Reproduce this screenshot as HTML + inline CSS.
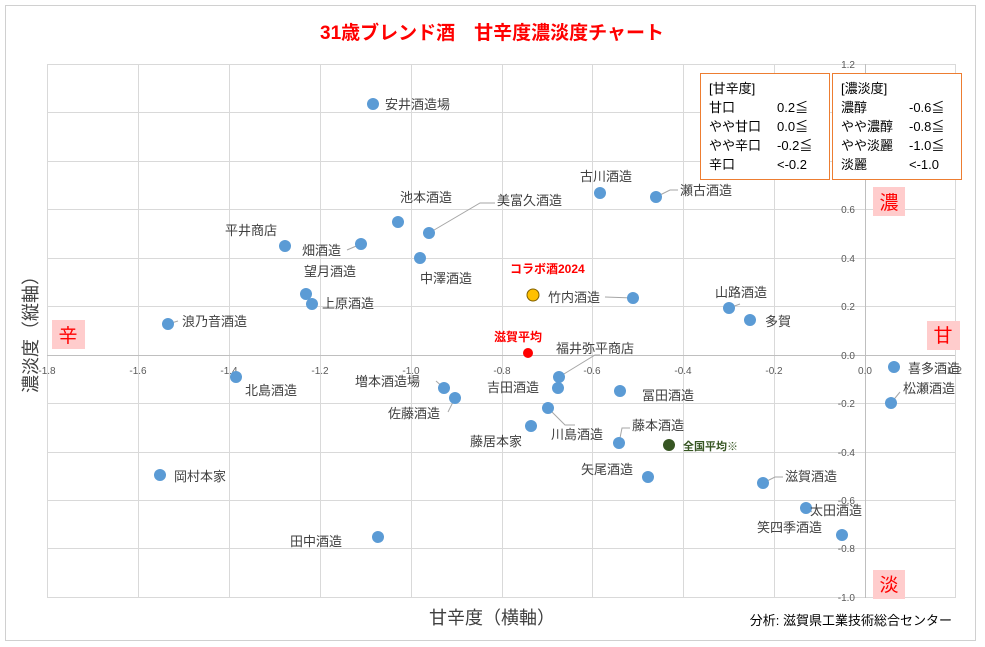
<!DOCTYPE html>
<html><head><meta charset="utf-8"><style>
html,body{margin:0;padding:0;background:#fff}
svg{display:block;font-family:"Liberation Sans","Noto Sans CJK JP",sans-serif}
</style></head><body>
<svg width="985" height="647" viewBox="0 0 985 647" xmlns="http://www.w3.org/2000/svg">
<rect x="0" y="0" width="985" height="647" fill="#fff"/>
<rect x="5.5" y="5.5" width="970" height="635" fill="none" stroke="#d0d0d0"/>
<text x="492" y="39" text-anchor="middle" font-size="19" font-weight="bold" fill="#ff0000">31歳ブレンド酒　甘辛度濃淡度チャート</text>
<g stroke="#d9d9d9" stroke-width="1">
<line x1="47.5" y1="64" x2="47.5" y2="598"/><line x1="138.5" y1="64" x2="138.5" y2="598"/><line x1="229.5" y1="64" x2="229.5" y2="598"/><line x1="320.5" y1="64" x2="320.5" y2="598"/><line x1="411.5" y1="64" x2="411.5" y2="598"/><line x1="502.5" y1="64" x2="502.5" y2="598"/><line x1="592.5" y1="64" x2="592.5" y2="598"/><line x1="683.5" y1="64" x2="683.5" y2="598"/><line x1="774.5" y1="64" x2="774.5" y2="598"/><line x1="955.5" y1="64" x2="955.5" y2="598"/>
<line x1="47" y1="64.5" x2="955" y2="64.5"/><line x1="47" y1="112.5" x2="955" y2="112.5"/><line x1="47" y1="161.5" x2="955" y2="161.5"/><line x1="47" y1="209.5" x2="955" y2="209.5"/><line x1="47" y1="258.5" x2="955" y2="258.5"/><line x1="47" y1="306.5" x2="955" y2="306.5"/><line x1="47" y1="403.5" x2="955" y2="403.5"/><line x1="47" y1="452.5" x2="955" y2="452.5"/><line x1="47" y1="500.5" x2="955" y2="500.5"/><line x1="47" y1="548.5" x2="955" y2="548.5"/><line x1="47" y1="597.5" x2="955" y2="597.5"/>
</g>
<g stroke="#bfbfbf"><line x1="865.5" y1="64" x2="865.5" y2="598"/><line x1="47" y1="355.5" x2="955" y2="355.5"/></g>
<g font-size="10" fill="#595959" text-anchor="middle">
<text x="47" y="374">-1.8</text><text x="138" y="374">-1.6</text><text x="229" y="374">-1.4</text><text x="320" y="374">-1.2</text><text x="411" y="374">-1.0</text><text x="502" y="374">-0.8</text><text x="592" y="374">-0.6</text><text x="683" y="374">-0.4</text><text x="774" y="374">-0.2</text><text x="865" y="374">0.0</text><text x="955" y="374">0.2</text>
</g>
<g font-size="10" fill="#595959" text-anchor="end">
<text x="855" y="68">1.2</text><text x="855" y="213">0.6</text><text x="855" y="262">0.4</text><text x="855" y="310">0.2</text><text x="855" y="359">0.0</text><text x="855" y="407">-0.2</text><text x="855" y="456">-0.4</text><text x="855" y="504">-0.6</text><text x="855" y="552">-0.8</text><text x="855" y="601">-1.0</text>
</g>
<g fill="#ffcccc"><rect x="873" y="187" width="32" height="29"/><rect x="927" y="321" width="33" height="29"/><rect x="52" y="320" width="33" height="29"/><rect x="873" y="570" width="32" height="29"/></g>
<g font-size="19" fill="#ff0000" text-anchor="middle">
<text x="889" y="209">濃</text><text x="943" y="342">甘</text><text x="68" y="342">辛</text><text x="889" y="591">淡</text></g>
<g fill="#fff" stroke="#ed7d31"><rect x="700.5" y="73.5" width="129" height="106"/><rect x="832.5" y="73.5" width="129" height="106"/></g>
<g font-size="13" fill="#000">
<text x="709" y="93">[甘辛度]</text><text x="709" y="112">甘口</text><text x="777" y="112">0.2≦</text><text x="709" y="131">やや甘口</text><text x="777" y="131">0.0≦</text><text x="709" y="150">やや辛口</text><text x="777" y="150">-0.2≦</text><text x="709" y="169">辛口</text><text x="777" y="169">&lt;-0.2</text>
<text x="841" y="93">[濃淡度]</text><text x="841" y="112">濃醇</text><text x="909" y="112">-0.6≦</text><text x="841" y="131">やや濃醇</text><text x="909" y="131">-0.8≦</text><text x="841" y="150">やや淡麗</text><text x="909" y="150">-1.0≦</text><text x="841" y="169">淡麗</text><text x="909" y="169">&lt;-1.0</text>
</g>
<g stroke="#a6a6a6" stroke-width="1" fill="none">
<polyline points="429,233 480,203 495,203"/><polyline points="656,197 670,190 678,190"/><polyline points="559,377 595,355 600,355"/><polyline points="444,388 436,381"/><polyline points="455,398 448,412"/><polyline points="548,408 565,425 575,425"/><polyline points="619,443 622,428 630,428"/><polyline points="729,308 740,304"/><polyline points="633,298 605,297"/><polyline points="168,324 178,321"/><polyline points="891,403 900,392"/><polyline points="806,508 812,512"/><polyline points="763,483 775,477 783,477"/><polyline points="361,244 347,250"/>
</g>
<g fill="#5b9bd5">
<circle cx="373" cy="104" r="6"/><circle cx="600" cy="193" r="6"/><circle cx="656" cy="197" r="6"/><circle cx="398" cy="222" r="6"/><circle cx="429" cy="233" r="6"/><circle cx="285" cy="246" r="6"/><circle cx="361" cy="244" r="6"/><circle cx="306" cy="294" r="6"/><circle cx="312" cy="304" r="6"/><circle cx="420" cy="258" r="6"/><circle cx="633" cy="298" r="6"/><circle cx="729" cy="308" r="6"/><circle cx="750" cy="320" r="6"/><circle cx="168" cy="324" r="6"/><circle cx="559" cy="377" r="6"/><circle cx="236" cy="377" r="6"/><circle cx="444" cy="388" r="6"/><circle cx="558" cy="388" r="6"/><circle cx="620" cy="391" r="6"/><circle cx="455" cy="398" r="6"/><circle cx="548" cy="408" r="6"/><circle cx="531" cy="426" r="6"/><circle cx="619" cy="443" r="6"/><circle cx="648" cy="477" r="6"/><circle cx="763" cy="483" r="6"/><circle cx="160" cy="475" r="6"/><circle cx="806" cy="508" r="6"/><circle cx="842" cy="535" r="6"/><circle cx="378" cy="537" r="6"/><circle cx="894" cy="367" r="6"/><circle cx="891" cy="403" r="6"/>
</g>
<circle cx="533" cy="295" r="6" fill="#ffc000" stroke="#7f6000"/>
<circle cx="528" cy="353" r="5" fill="#ff0000"/>
<circle cx="669" cy="445" r="6" fill="#375623"/>
<g font-size="13" fill="#404040">
<text x="385" y="109">安井酒造場</text><text x="580" y="181">古川酒造</text><text x="680" y="195">瀬古酒造</text><text x="400" y="202">池本酒造</text><text x="497" y="205">美富久酒造</text><text x="225" y="235">平井商店</text><text x="302" y="255">畑酒造</text><text x="304" y="276">望月酒造</text><text x="322" y="308">上原酒造</text><text x="420" y="283">中澤酒造</text><text x="548" y="302">竹内酒造</text><text x="715" y="297">山路酒造</text><text x="765" y="326">多賀</text><text x="182" y="326">浪乃音酒造</text><text x="556" y="353">福井弥平商店</text><text x="245" y="395">北島酒造</text><text x="355" y="386">増本酒造場</text><text x="487" y="392">吉田酒造</text><text x="642" y="400">冨田酒造</text><text x="388" y="418">佐藤酒造</text><text x="551" y="439">川島酒造</text><text x="470" y="446">藤居本家</text><text x="632" y="430">藤本酒造</text><text x="581" y="474">矢尾酒造</text><text x="785" y="481">滋賀酒造</text><text x="174" y="481">岡村本家</text><text x="810" y="515">太田酒造</text><text x="757" y="532">笑四季酒造</text><text x="290" y="546">田中酒造</text><text x="908" y="373">喜多酒造</text><text x="903" y="393">松瀬酒造</text>
</g>
<text x="510" y="273" font-size="12" font-weight="bold" fill="#ff0000">コラボ酒2024</text>
<text x="494" y="341" font-size="12" font-weight="bold" fill="#ff0000">滋賀平均</text>
<text x="683" y="450" font-size="11" font-weight="bold" fill="#375623">全国平均※</text>
<text x="492" y="624" text-anchor="middle" font-size="18" fill="#404040">甘辛度（横軸）</text>
<text transform="translate(37,330) rotate(-90)" text-anchor="middle" font-size="18" fill="#404040">濃淡度（縦軸）</text>
<text x="952" y="625" text-anchor="end" font-size="13" fill="#000">分析: 滋賀県工業技術総合センター</text>
</svg>
</body></html>
